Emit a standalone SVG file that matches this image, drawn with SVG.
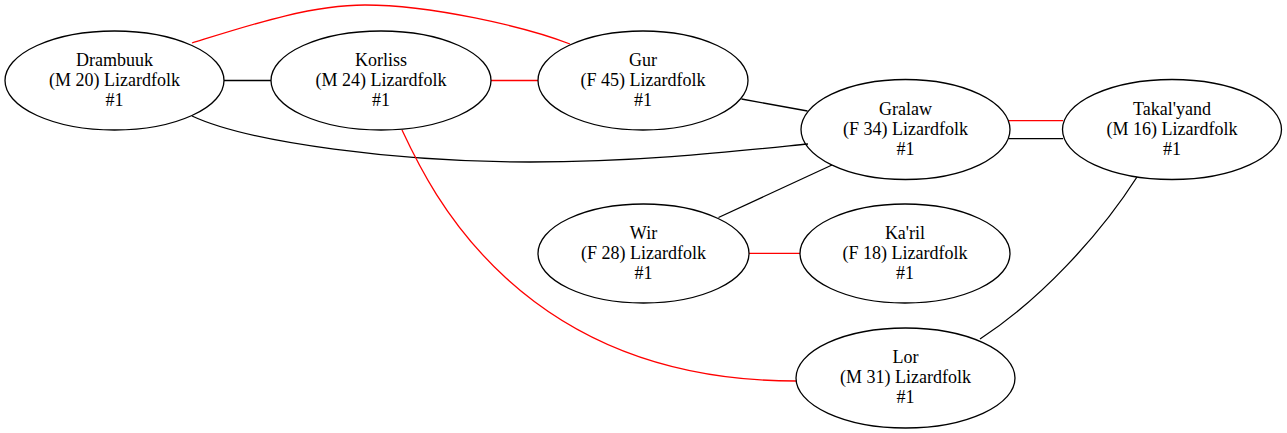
<svg xmlns="http://www.w3.org/2000/svg" width="1287" height="433" viewBox="0 0 1287 433">
<style>
.n ellipse{fill:none;stroke:#000;stroke-width:1.3}
.n text{font-size:18px;text-anchor:middle;fill:#000}
.e path{fill:none;stroke-width:1.3}
.k{stroke:#000}
.r{stroke:#ff0000}
</style>
<rect width="1287" height="433" fill="#fff"/>
<g id="edges" class="e">
<path class="r" d="M192,43 C250,25 310,5 365,5 C430,5 525,26.5 570,44"/>
<path class="k" d="M224,80.5 L271,80.5"/>
<path class="r" d="M491,80.5 L538,80.5"/>
<path class="k" d="M192,116 C250,143 400,162 530,162 C640,162 738,151 808,144"/>
<path class="k" d="M741.5,99 L807.5,111"/>
<path class="r" d="M1009,120.7 L1063,120.7"/>
<path class="k" d="M1009,138.7 L1063,138.7"/>
<path class="k" d="M718.5,217.5 L832,165"/>
<path class="r" d="M749,253.3 L800,253.3"/>
<path class="r" d="M402,130 C430,190 520,381 796,381"/>
<path class="k" d="M1137,177 C1100,235 1040,300 980,339"/>
</g>
<g id="Drambuuk" class="n" font-family="Liberation Serif, serif"><ellipse cx="114.5" cy="80.5" rx="109.5" ry="49.5"/><text x="114.5" y="65.5">Drambuuk</text><text x="114.5" y="85.5">(M 20) Lizardfolk</text><text x="114.5" y="105.5">#1</text></g>
<g id="Korliss" class="n" font-family="Liberation Serif, serif"><ellipse cx="381" cy="80.5" rx="110" ry="49.5"/><text x="381" y="65.5">Korliss</text><text x="381" y="85.5">(M 24) Lizardfolk</text><text x="381" y="105.5">#1</text></g>
<g id="Gur" class="n" font-family="Liberation Serif, serif"><ellipse cx="643" cy="80.5" rx="105" ry="49.5"/><text x="643" y="65.5">Gur</text><text x="643" y="85.5">(F 45) Lizardfolk</text><text x="643" y="105.5">#1</text></g>
<g id="Gralaw" class="n" font-family="Liberation Serif, serif"><ellipse cx="905.5" cy="129.5" rx="104.5" ry="50"/><text x="905.5" y="114.5">Gralaw</text><text x="905.5" y="134.5">(F 34) Lizardfolk</text><text x="905.5" y="154.5">#1</text></g>
<g id="Takalyand" class="n" font-family="Liberation Serif, serif"><ellipse cx="1172" cy="129.5" rx="109.5" ry="50"/><text x="1172" y="114.5">Takal'yand</text><text x="1172" y="134.5">(M 16) Lizardfolk</text><text x="1172" y="154.5">#1</text></g>
<g id="Wir" class="n" font-family="Liberation Serif, serif"><ellipse cx="643.5" cy="253.5" rx="105.5" ry="49.5"/><text x="643.5" y="238.5">Wir</text><text x="643.5" y="258.5">(F 28) Lizardfolk</text><text x="643.5" y="278.5">#1</text></g>
<g id="Karil" class="n" font-family="Liberation Serif, serif"><ellipse cx="905" cy="253.5" rx="105" ry="49.5"/><text x="905" y="238.5">Ka'ril</text><text x="905" y="258.5">(F 18) Lizardfolk</text><text x="905" y="278.5">#1</text></g>
<g id="Lor" class="n" font-family="Liberation Serif, serif"><ellipse cx="905.5" cy="378" rx="109.5" ry="50"/><text x="905.5" y="363">Lor</text><text x="905.5" y="383">(M 31) Lizardfolk</text><text x="905.5" y="403">#1</text></g>
</svg>
